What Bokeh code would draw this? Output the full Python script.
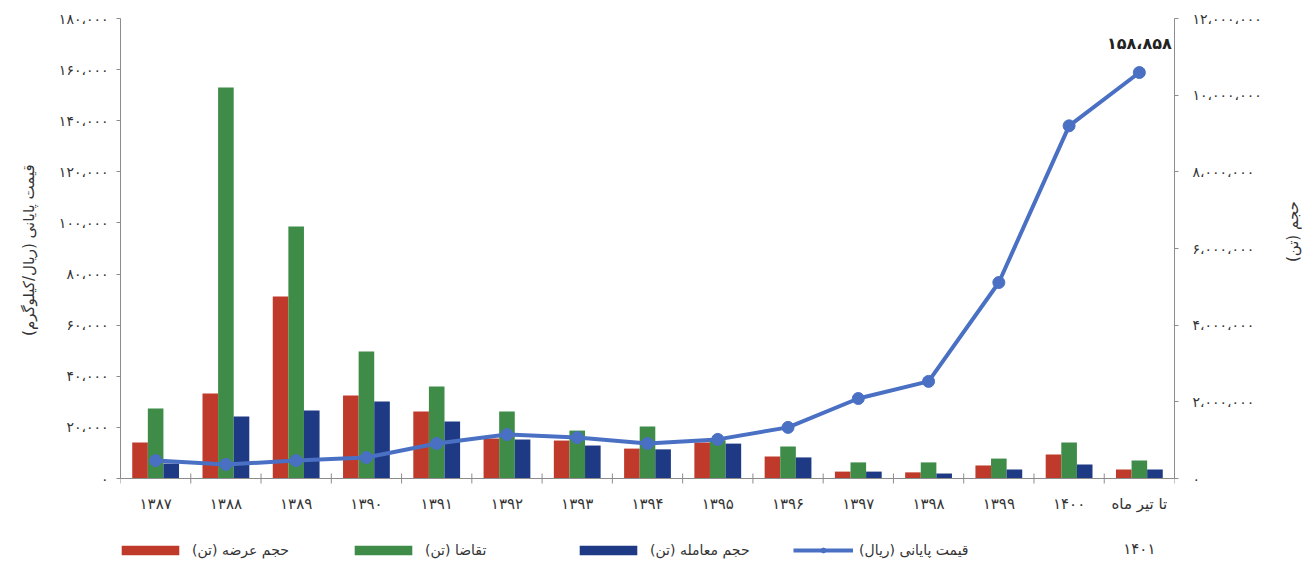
import math
from bokeh.plotting import figure
from bokeh.models import (FactorRange, Range1d, LinearAxis, FixedTicker, Legend,
                          LegendItem, ColumnDataSource, Span)
from bokeh.transform import dodge
from bokeh.core.properties import value
from bokeh.embed import file_html
from bokeh.resources import INLINE

# ---------------- data ----------------
categories = ["۱۳۸۷", "۱۳۸۸", "۱۳۸۹", "۱۳۹۰", "۱۳۹۱", "۱۳۹۲", "۱۳۹۳", "۱۳۹۴",
              "۱۳۹۵", "۱۳۹۶", "۱۳۹۷", "۱۳۹۸", "۱۳۹۹", "۱۴۰۰", "تا تیر ماه\n۱۴۰۱"]
supply = [940000, 2217000, 4748000, 2165000, 1748000, 1043000, 990000, 780000,
          940000, 574000, 180000, 160000, 340000, 626000, 235000]
demand = [1826000, 10200000, 6574000, 3313000, 2400000, 1748000, 1250000, 1356000,
          1000000, 835000, 420000, 420000, 520000, 940000, 470000]
traded = [390000, 1617000, 1774000, 2009000, 1487000, 1017000, 860000, 760000,
          910000, 550000, 180000, 130000, 235000, 365000, 235000]
price = [7000, 5500, 7000, 8200, 13700, 17200, 16000, 13700, 15300, 20000,
         31300, 38000, 76700, 138000, 158858]
last_price_label = ["۱۵۸،۸۵۸"]

left_ticks = [0, 20000, 40000, 60000, 80000, 100000, 120000, 140000, 160000, 180000]
left_tick_labels = ["۰", "۲۰،۰۰۰", "۴۰،۰۰۰", "۶۰،۰۰۰", "۸۰،۰۰۰", "۱۰۰،۰۰۰",
                    "۱۲۰،۰۰۰", "۱۴۰،۰۰۰", "۱۶۰،۰۰۰", "۱۸۰،۰۰۰"]
right_ticks = [0, 2000000, 4000000, 6000000, 8000000, 10000000, 12000000]
right_tick_labels = ["۰", "۲،۰۰۰،۰۰۰", "۴،۰۰۰،۰۰۰", "۶،۰۰۰،۰۰۰", "۸،۰۰۰،۰۰۰",
                     "۱۰،۰۰۰،۰۰۰", "۱۲،۰۰۰،۰۰۰"]

series_names = ["حجم عرضه (تن)", "تقاضا (تن)", "حجم معامله (تن)", "قیمت پایانی (ریال)"]
left_title = "قیمت پایانی (ریال/کیلوگرم)"
right_title = "حجم (تن)"

# ---------------- layout / style ----------------
FONT = "DejaVu Sans"
RED, GREEN, NAVY, BLUE = "#BF3A2B", "#3E8C48", "#1F3A85", "#4A70C4"
AXIS = "#8C8C8C"
TXT = "#333333"
PLOT_H, BELOW_H = 460, 94          # px of value area and of the area below the baseline
LEFT_MAX, RIGHT_MAX = left_ticks[-1], right_ticks[-1]
pad = BELOW_H / PLOT_H
NBSP = "\u00a0"

p = figure(width=1313, height=572,
           x_range=FactorRange(factors=categories, range_padding=0),
           y_range=Range1d(-LEFT_MAX * pad, LEFT_MAX),
           output_backend="svg", toolbar_location=None,
           x_axis_location=None, y_axis_location=None,
           min_border_left=120, min_border_right=136,
           min_border_top=18, min_border_bottom=0)
p.extra_y_ranges = {"vol": Range1d(-RIGHT_MAX * pad, RIGHT_MAX)}
p.xgrid.visible = False
p.ygrid.visible = False
p.outline_line_color = None
p.background_fill_color = "white"
p.border_fill_color = "white"

bw = 0.222
source = ColumnDataSource(dict(cat=categories, supply=supply, demand=demand,
                               traded=traded, price=price,
                               zero=[0] * len(categories)))

r_sup = p.vbar(x=dodge("cat", -bw, range=p.x_range), top="supply", width=bw,
               source=source, y_range_name="vol", fill_color=RED, line_color=None)
r_dem = p.vbar(x=dodge("cat", 0, range=p.x_range), top="demand", width=bw,
               source=source, y_range_name="vol", fill_color=GREEN, line_color=None)
r_tra = p.vbar(x=dodge("cat", bw, range=p.x_range), top="traded", width=bw,
               source=source, y_range_name="vol", fill_color=NAVY, line_color=None)
r_line = p.line(x="cat", y="price", source=source, line_color=BLUE, line_width=4)
r_pts = p.scatter(x="cat", y="price", source=source, size=12, marker="circle",
                  fill_color=BLUE, line_color=BLUE)

p.text(x=[categories[-1]], y=[price[-1]], text=last_price_label, y_offset=-20,
       text_align="center", text_baseline="bottom",
       text_font=value(FONT), text_font_size="16px", text_font_style="bold",
       text_color="#222222")

# category axis (baseline, boundary ticks, labels)
p.add_layout(Span(location=0, dimension="width", line_color=AXIS, line_width=1))
p.rect(x=dodge("cat", -0.5, range=p.x_range), y="zero", width=1, height=10,
       width_units="screen", height_units="screen", source=source,
       fill_color=AXIS, line_color=None)
p.rect(x=dodge("cat", 0.5, range=p.x_range), y=0,
       source=ColumnDataSource(dict(cat=categories[-1:])), width=1, height=10,
       width_units="screen", height_units="screen", fill_color=AXIS, line_color=None)
p.text(x="cat", y="zero", text="cat", source=source, y_offset=16,
       text_align="center", text_baseline="top", text_line_height=2.5,
       text_font=value(FONT), text_font_size="15px", text_color=TXT)

ax_l = LinearAxis(ticker=FixedTicker(ticks=left_ticks), bounds=(0, LEFT_MAX),
                  major_label_overrides=dict(zip(left_ticks, left_tick_labels)),
                  axis_label=NBSP * 19 + left_title)
ax_r = LinearAxis(y_range_name="vol", ticker=FixedTicker(ticks=right_ticks),
                  bounds=(0, RIGHT_MAX),
                  major_label_overrides=dict(zip(right_ticks, right_tick_labels)),
                  axis_label=NBSP * 7 + right_title)
for ax in (ax_l, ax_r):
    ax.axis_line_color = AXIS
    ax.major_tick_line_color = AXIS
    ax.major_tick_out = 4
    ax.major_tick_in = 0
    ax.minor_tick_line_color = None
    ax.major_label_text_font = FONT
    ax.major_label_text_font_size = "14px"
    ax.major_label_text_color = TXT
    ax.major_label_standoff = 8
    ax.axis_label_text_font = FONT
    ax.axis_label_text_font_size = "15px"
    ax.axis_label_text_font_style = "normal"
    ax.axis_label_text_color = TXT
    ax.axis_label_standoff = 18
ax_r.major_label_standoff = 14
ax_r.axis_label_standoff = 28
try:
    ax_r.axis_label_orientation = math.pi / 2
except Exception:
    pass
p.add_layout(ax_l, "left")
p.add_layout(ax_r, "right")

# legends, individually positioned inside the lower band of the frame
items = [(series_names[0], [r_sup], -6, 72),
         (series_names[1], [r_dem], 227, 72),
         (series_names[2], [r_tra], 452, 72),
         (series_names[3], [r_line, r_pts], 673, 60)]
for name, rends, xoff, gw in items:
    lg = Legend(items=[LegendItem(label=name, renderers=rends)],
                location=(xoff, 14), orientation="horizontal",
                glyph_width=gw, glyph_height=12, label_standoff=6,
                padding=0, margin=0, border_line_color=None,
                background_fill_alpha=0,
                label_text_font=FONT, label_text_font_size="14px",
                label_text_color=TXT)
    p.add_layout(lg, "center")

open("out.html", "w").write(file_html(p, INLINE))
